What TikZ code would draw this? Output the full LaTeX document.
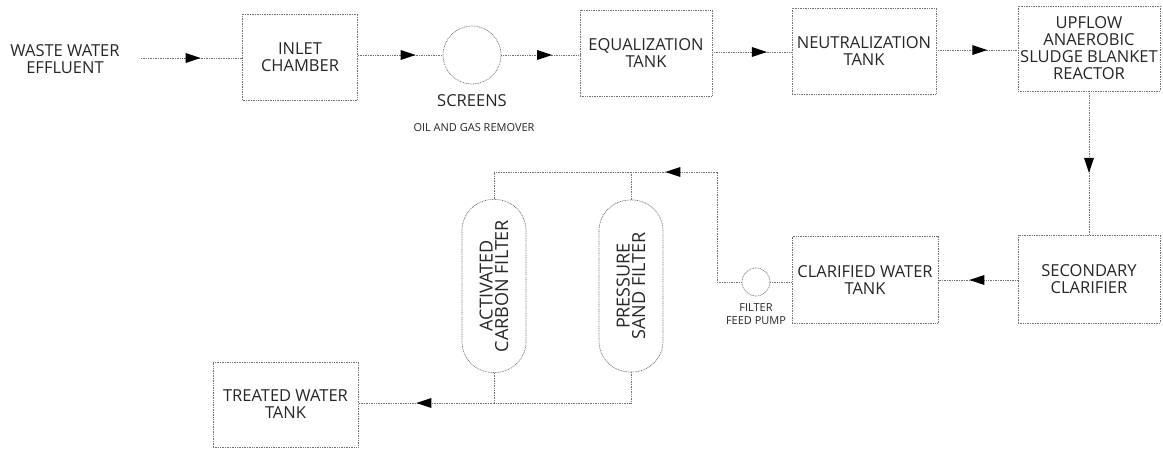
\documentclass[tikz,border=0pt]{standalone}
\usepackage{fontspec}
\setmainfont{Open Sans}
\usetikzlibrary{decorations.markings}
\tikzset{
  pipe/.style={draw=black!55, line width=0.7pt, dash pattern=on 0.9pt off 0.8pt},
  flow/.style={pipe, postaction={decorate}, decoration={markings,
     mark=at position #1 with {\fill[black] (7pt,0pt) -- (-8pt,5pt) -- (-8pt,-5pt) -- cycle;}}},
  flow/.default=0.58,
  unit/.style={draw=black!55, line width=0.7pt, dash pattern=on 0.9pt off 0.8pt,
     align=center, inner sep=2pt, font=\fontsize{16.5}{17}\selectfont, text=black!85},
  lbl/.style={align=center, inner sep=0pt, font=\fontsize{16.5}{17}\selectfont, text=black!85},
  small/.style={align=center, inner sep=0pt, font=\fontsize{11}{12.5}\selectfont, text=black!85},
  filt/.style={unit, rounded corners=31pt, rotate=90, font=\fontsize{18}{15.5}\selectfont}
}
\begin{document}
\begin{tikzpicture}[x=1pt,y=-1pt]
\useasboundingbox (0,0) rectangle (1163,448);
% nodes
\node[lbl] (waste) at (65,59) {WASTE WATER\\EFFLUENT};
\coordinate (wstart) at (141,58);
\node[unit, minimum width=115pt, minimum height=86pt] (inlet) at (300,57) {INLET\\CHAMBER};
\node[unit, circle, minimum size=58pt, inner sep=0pt] (screen) at (472,55) {};
\node[lbl] (screenlbl) at (472,101) {SCREENS};
\node[small] (oil) at (474,128) {OIL AND GAS REMOVER};
\node[unit, minimum width=132pt, minimum height=86pt] (equal) at (646,53) {EQUALIZATION\\TANK};
\node[unit, minimum width=144pt, minimum height=86pt] (neut) at (864,51) {NEUTRALIZATION\\TANK};
\node[unit, minimum width=142pt, minimum height=85pt] (uasb) at (1089,48.5) {UPFLOW\\ANAEROBIC\\SLUDGE BLANKET\\REACTOR};
\node[unit, minimum width=142pt, minimum height=88pt] (sec) at (1089,279) {SECONDARY\\CLARIFIER};
\node[unit, minimum width=146pt, minimum height=87pt] (clar) at (865,280) {CLARIFIED WATER\\TANK};
\node[unit, circle, minimum size=28pt, inner sep=0pt] (pump) at (756,282) {};
\node[small] (pumplbl) at (756,314) {FILTER\\FEED PUMP};
\node[filt, minimum width=173pt, minimum height=64pt] (acf) at (494,286) {ACTIVATED\\CARBON FILTER};
\node[filt, minimum width=172pt, minimum height=64pt] (psf) at (631,286) {PRESSURE\\SAND FILTER};
\node[unit, minimum width=145pt, minimum height=85pt] (treated) at (285.5,404.5) {TREATED WATER\\TANK};
% junction coordinates
\coordinate (p1) at (717,282);
\coordinate (p2) at (717,172);
\coordinate (p3) at (631,172);
\coordinate (p4) at (494,172);
\coordinate (b1) at (494,403);
\coordinate (b2) at (631,403);
% connectors
\draw[flow=0.52] (wstart) -- (inlet.west |- wstart);
\draw[flow=0.6] (inlet.east |- screen.west) -- (screen.west);
\draw[flow=0.56] (screen.east) -- (equal.west |- screen.east);
\draw[flow=0.6] (equal.east |- 0,52) -- (neut.west |- 0,52);
\draw[flow=0.54] (neut.east |- 0,50) -- (uasb.west |- 0,50);
\draw[flow=0.52] (uasb.south) -- (sec.north);
\draw[flow=0.52] (sec.west |- 0,280) -- (clar.east |- 0,280);
\draw[pipe] (clar.west |- pump.east) -- (pump.east);
\draw[pipe] (pump.west) -- (p1) -- (p2);
\draw[flow=0.52] (p2) -- (p3);
\draw[pipe] (p3) -- (p4) -- (acf.east);
\draw[pipe] (p3) -- (psf.east);
\draw[pipe] (acf.west) -- (b1) -- (b2) -- (psf.west);
\draw[flow=0.52] (b1) -- (treated.east |- b1);
\end{tikzpicture}
\end{document}
